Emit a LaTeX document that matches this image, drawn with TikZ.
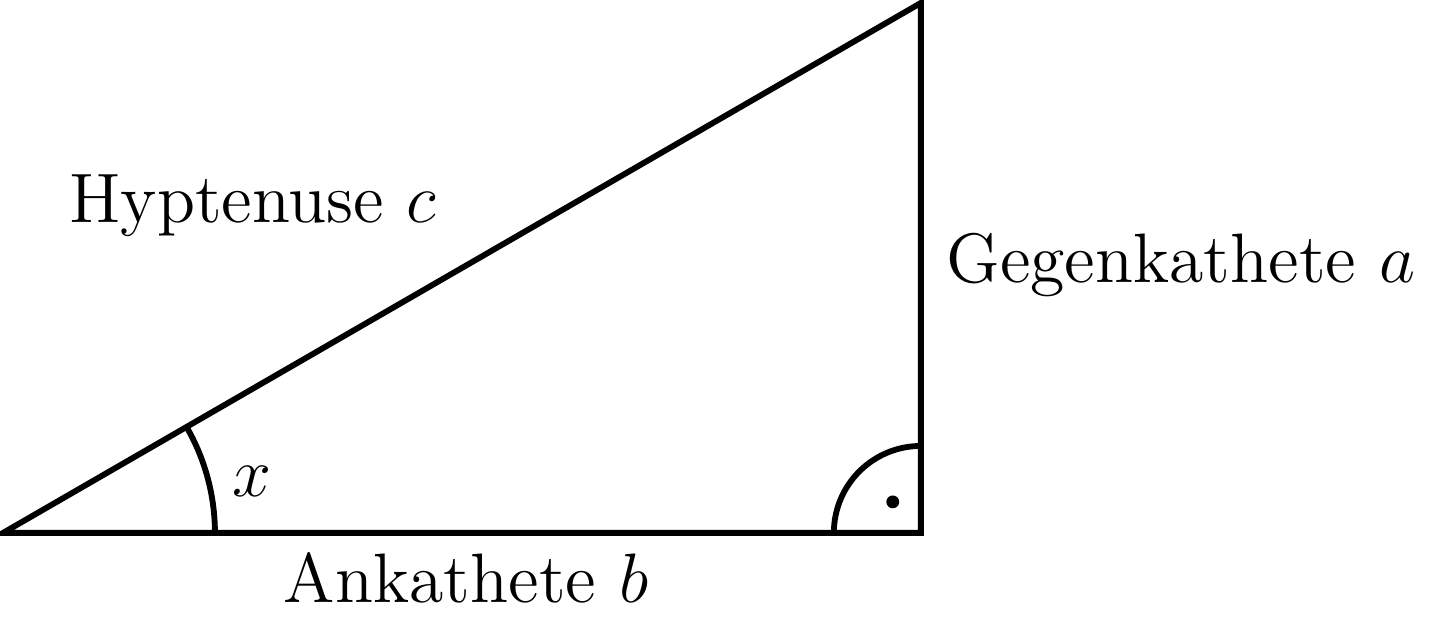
\documentclass[tikz,border=0pt]{standalone}
\usetikzlibrary{positioning}

\begin{document}
\begin{tikzpicture}[
  side/.style={line width=1pt, black},
  lbl/.style={font=\large, text=black},
]
\useasboundingbox (-0.018,-0.590) rectangle (8.628,3.211);

% Eckpunkte
\coordinate (A) at (0,0);
\coordinate (B) at (5.53,0);
\coordinate (C) at (5.53,3.193);

% Dreieck
\draw[side] (A) -- (B) -- (C) -- cycle;

% Winkel
\draw[side] (A) ++(0:1.277) arc (0:30:1.277);
\draw[side] (B) ++(180:0.524) arc (180:90:0.524);
\fill ([shift={(-0.169,0.187)}]B) circle (1.1pt);

% Beschriftung
\node[lbl, anchor=base] (hyp) at (1.506,1.868) {Hyptenuse $c$};
\node[lbl, anchor=base west] (geg) at (5.56,1.506) {Gegenkathete $a$};
\node[lbl, anchor=base] (ank) at (2.79,-0.422) {Ankathete $b$};
\node[lbl, anchor=base] (wx) at (1.50,0.217) {$x$};

\end{tikzpicture}
\end{document}
